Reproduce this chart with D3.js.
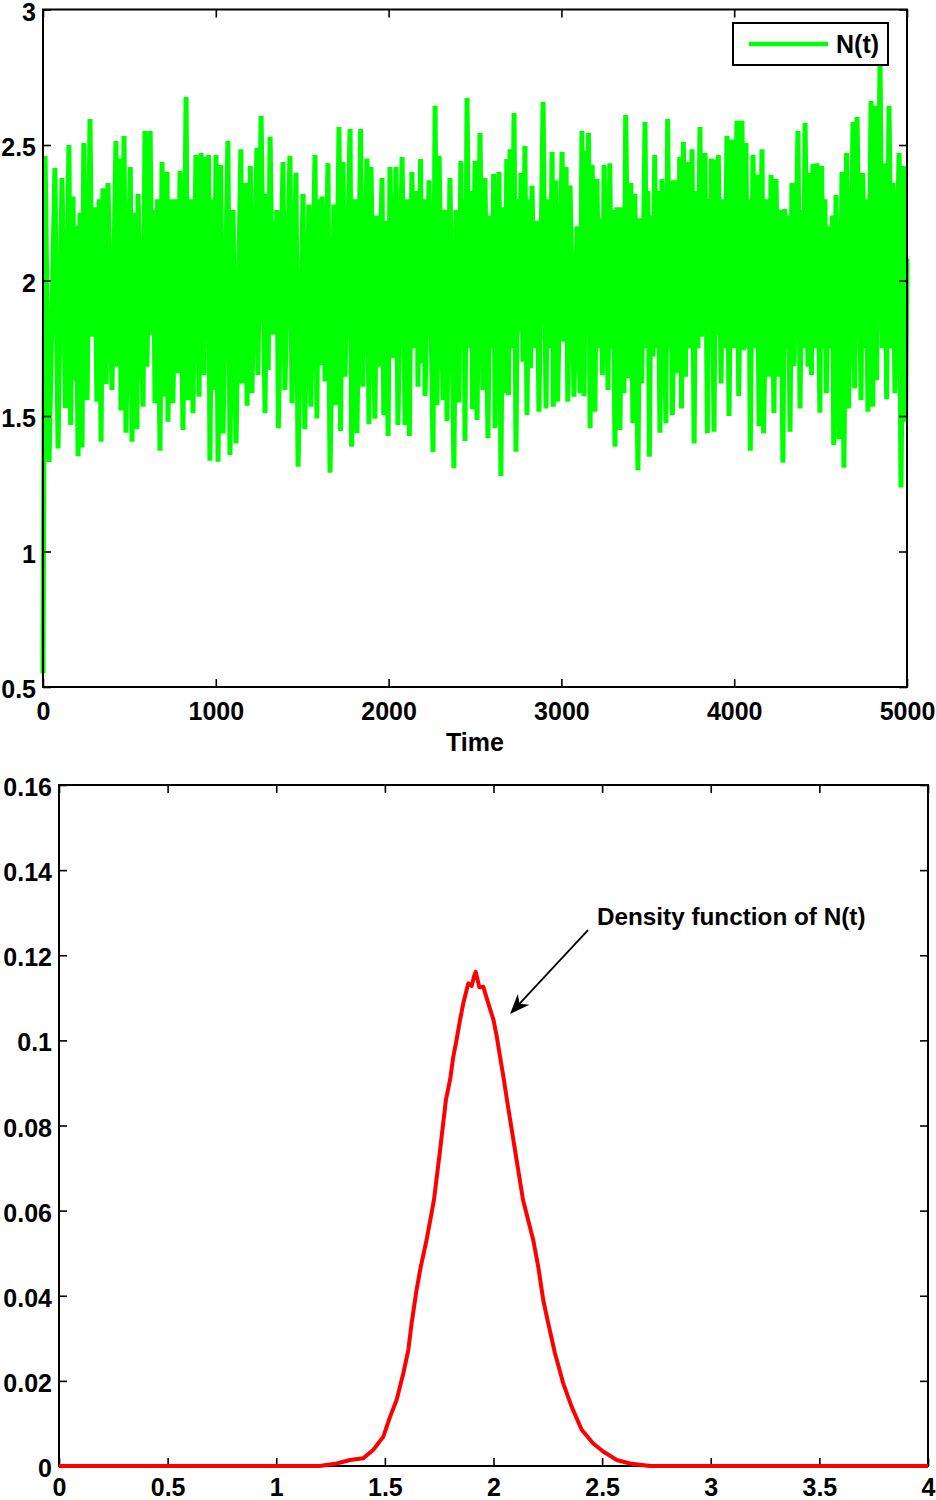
<!DOCTYPE html>
<html><head><meta charset="utf-8">
<script src="https://cdn.jsdelivr.net/npm/d3@7"></script>
<style>
body{margin:0;background:#fff}
text{font-family:"Liberation Sans",Arial,Helvetica,sans-serif;}
</style>
</head><body>
<svg id="c" width="936" height="1500"></svg>
<script>
// ---------- DATA ----------
// N(t) sample path: [time, value] (peaks and troughs)
const nSeries = [
[0,0.55],[12,2.46],[35,1.33],[69,2.415],[87,1.38],[110,2.378],[130,1.53],[150,2.50],[160,1.467],[174,2.31],
[182,1.63],[191,2.20],[203,1.352],[214,2.25],[226,1.384],[236,2.507],[255,1.559],[272,2.596],[284,1.793],[301,2.27],
[312,1.553],[325,2.30],[336,1.405],[347,2.34],[365,1.618],[376,2.36],[399,1.596],[422,2.515],[428,1.682],[446,2.45],
[451,1.52],[469,2.533],[480,1.438],[505,2.419],[515,1.405],[530,2.25],[544,1.451],[550,2.32],[579,1.534],[590,2.552],
[602,1.682],[620,2.552],[632,1.80],[640,2.26],[648,1.547],[663,2.30],[677,1.372],[689,2.437],[700,1.571],[718,2.40],
[723,1.479],[741,2.30],[752,1.547],[770,2.30],[781,1.658],[793,2.404],[810,1.448],[828,2.677],[839,1.559],[855,2.30],
[868,1.51],[885,2.463],[903,1.571],[915,2.47],[932,1.651],[943,2.456],[950,1.80],[958,2.463],[966,1.335],[978,2.30],
[990,1.596],[1001,2.463],[1013,1.331],[1028,2.426],[1042,1.436],[1070,2.515],[1082,1.356],[1100,2.26],[1117,1.399],[1145,2.484],
[1152,1.62],[1170,2.36],[1181,1.538],[1200,2.422],[1209,1.584],[1238,2.49],[1244,1.651],[1262,2.607],[1285,1.51],[1296,2.32],
[1303,1.67],[1314,2.53],[1330,1.80],[1354,2.26],[1362,1.455],[1389,2.437],[1400,1.596],[1429,2.46],[1441,1.547],[1464,2.397],
[1476,1.313],[1505,2.32],[1515,1.451],[1539,2.28],[1550,1.534],[1574,2.463],[1585,1.491],[1595,2.30],[1605,1.688],[1615,2.31],
[1632,1.627],[1649,2.433],[1661,1.291],[1684,2.28],[1695,1.54],[1713,2.566],[1722,1.445],[1736,2.437],[1748,1.645],[1777,2.559],
[1786,1.387],[1806,2.30],[1817,1.436],[1838,2.559],[1850,1.608],[1875,2.45],[1886,1.47],[1898,2.419],[1921,1.49],[1932,2.24],
[1942,1.682],[1962,2.378],[1972,1.504],[1985,2.22],[1997,1.426],[2008,2.419],[2025,1.713],[2043,2.419],[2054,1.467],[2078,2.456],
[2095,1.467],[2106,2.30],[2120,1.426],[2135,2.40],[2150,1.75],[2164,2.33],[2170,1.608],[2185,2.448],[2195,1.694],[2203,2.30],
[2211,1.574],[2234,2.37],[2257,1.366],[2269,2.645],[2280,1.54],[2292,2.46],[2315,1.559],[2326,2.26],[2338,1.482],[2355,2.378],
[2378,1.307],[2390,2.26],[2407,1.55],[2418,2.441],[2428,1.75],[2436,2.30],[2442,1.408],[2454,2.673],[2466,1.75],[2477,2.33],
[2486,1.525],[2500,2.441],[2512,1.485],[2529,2.544],[2546,1.596],[2558,2.378],[2575,1.418],[2588,2.24],[2596,1.75],[2608,2.393],
[2616,1.455],[2639,2.40],[2650,1.279],[2662,2.27],[2674,1.584],[2684,2.448],[2694,1.577],[2703,2.484],[2714,1.75],[2726,2.618],
[2737,1.368],[2749,2.30],[2758,1.811],[2766,2.397],[2778,1.70],[2789,2.496],[2801,1.504],[2812,2.30],[2822,1.676],[2830,2.35],
[2845,1.75],[2859,2.22],[2870,1.516],[2894,2.659],[2911,1.528],[2922,2.30],[2935,1.75],[2946,2.474],[2953,1.534],[2968,2.37],
[2978,1.553],[3004,2.474],[3014,1.774],[3027,2.419],[3037,1.553],[3050,2.35],[3073,1.571],[3090,2.20],[3108,1.584],[3119,2.552],
[3131,1.574],[3142,2.48],[3150,1.80],[3157,2.544],[3166,1.455],[3178,2.426],[3194,1.516],[3206,2.374],[3218,1.75],[3229,2.23],
[3237,1.651],[3247,2.426],[3270,1.596],[3280,2.433],[3290,1.75],[3298,2.26],[3310,1.387],[3322,2.27],[3339,1.448],[3350,2.27],
[3362,1.584],[3372,2.611],[3391,1.639],[3402,2.36],[3414,1.473],[3425,2.32],[3443,1.30],[3455,2.23],[3465,1.62],[3484,2.585],
[3493,1.75],[3501,2.33],[3509,1.35],[3520,2.24],[3530,1.719],[3540,2.463],[3550,1.75],[3559,2.33],[3570,1.438],[3582,2.374],
[3605,1.473],[3615,2.596],[3625,1.75],[3634,2.37],[3642,1.504],[3663,2.37],[3675,1.658],[3685,2.456],[3695,1.528],[3706,2.511],
[3718,1.645],[3728,2.437],[3742,1.75],[3756,2.484],[3768,1.399],[3779,2.33],[3790,1.75],[3802,2.566],[3810,1.793],[3831,2.47],
[3845,1.436],[3854,2.30],[3860,1.75],[3868,2.45],[3883,1.442],[3895,2.445],[3900,1.80],[3908,2.463],[3924,1.62],[3934,2.30],
[3946,1.75],[3958,2.533],[3970,1.50],[3987,2.52],[4000,1.75],[4016,2.589],[4026,1.574],[4045,2.589],[4054,1.743],[4068,2.507],
[4078,1.75],[4085,2.30],[4093,1.372],[4109,2.463],[4120,1.75],[4132,2.39],[4144,1.463],[4161,2.484],[4170,1.436],[4190,2.30],
[4201,1.645],[4213,2.39],[4230,1.51],[4242,2.374],[4259,1.645],[4268,2.26],[4282,1.328],[4292,2.264],[4302,1.75],[4311,2.24],
[4323,1.442],[4334,2.36],[4346,1.684],[4369,2.552],[4381,1.528],[4392,2.26],[4400,1.75],[4410,2.581],[4427,1.682],[4436,2.397],
[4447,1.651],[4456,2.43],[4470,1.75],[4479,2.433],[4496,1.512],[4506,2.422],[4516,1.75],[4525,2.30],[4533,1.584],[4549,2.20],
[4560,1.75],[4568,2.24],[4576,1.393],[4589,2.315],[4607,1.414],[4624,2.40],[4635,1.309],[4650,2.47],[4662,1.528],[4688,2.585],
[4697,1.602],[4711,2.603],[4734,1.559],[4744,2.397],[4754,1.75],[4763,2.30],[4774,1.516],[4792,2.662],[4802,1.534],[4812,2.645],
[4824,1.633],[4844,2.81],[4858,1.75],[4872,2.433],[4882,1.562],[4896,2.645],[4910,1.75],[4920,2.36],[4930,1.584],[4954,2.47],
[4965,1.236],[4983,2.422],[4992,1.479],[5000,2.08]
];
const topXTicks = [0,1000,2000,3000,4000,5000];
const topYTicks = [0.5,1,1.5,2,2.5,3];
const topXLabel = "Time";
const legendLabel = "N(t)";

// density of N(t)
const densX = [0,1.2,1.278,1.34,1.40,1.447,1.493,1.524,1.554,1.585,1.608,1.623,1.646,1.665,1.692,1.726,1.754,1.781,1.80,1.815,1.83,1.846,1.861,1.884,1.90,1.91,1.918,1.935,1.953,1.976,2.0,2.015,2.03,2.048,2.062,2.099,2.136,2.183,2.206,2.229,2.252,2.283,2.321,2.36,2.406,2.459,2.505,2.567,2.628,2.72,4];
const densY = [0,0,0.0006,0.0014,0.0018,0.0038,0.0069,0.0116,0.0155,0.0218,0.0273,0.0335,0.0414,0.0468,0.0531,0.0625,0.0742,0.086,0.0907,0.0962,0.1001,0.1048,0.1087,0.1134,0.1128,0.1150,0.1161,0.1125,0.1126,0.1087,0.1048,0.1009,0.0962,0.0907,0.086,0.0742,0.0625,0.0531,0.0468,0.039,0.0335,0.0265,0.0194,0.0139,0.0085,0.0053,0.0034,0.0014,0.0006,0,0];
const botXTicks = [0,0.5,1,1.5,2,2.5,3,3.5,4];
const botYTicks = [0,0.02,0.04,0.06,0.08,0.1,0.12,0.14,0.16];
const annotationText = "Density function of N(t)";
const arrowTail = [2.435, 0.1259];
const arrowTip = [2.076, 0.1062];
const annotationPos = [2.476, 0.1271];

// ---------- DRAW ----------
const svg = d3.select("#c");
const FS = 25;

function frame(x, y, xt, yt, xPad) {
  const [x0, x1] = x.range(), [y0, y1] = y.range();
  const g = svg.append("g");
  const style = sel => {
    sel.select(".domain").remove();
    sel.selectAll(".tick line").attr("stroke", "#000").attr("stroke-width", 1.6);
    sel.selectAll(".tick text").attr("fill", "#000").attr("font-size", FS).attr("font-weight", "bold");
  };
  g.append("g").attr("transform", `translate(0,${y0})`)
    .call(d3.axisBottom(x).tickValues(xt).tickSize(-8).tickPadding(xPad).tickFormat(d => String(d))).call(style);
  g.append("g").attr("transform", `translate(0,${y1})`)
    .call(d3.axisTop(x).tickValues(xt).tickSize(-8).tickFormat("")).call(style);
  const ly = g.append("g").attr("transform", `translate(${x0},0)`)
    .call(d3.axisLeft(y).tickValues(yt).tickSize(-8).tickPadding(7).tickFormat(d => String(d))).call(style);
  ly.selectAll(".tick text").attr("dy", "0.42em");
  g.append("g").attr("transform", `translate(${x1},0)`)
    .call(d3.axisRight(y).tickValues(yt).tickSize(-8).tickFormat("")).call(style);
  return g;
}
function border(x, y) {
  const [x0, x1] = x.range(), [y0, y1] = y.range();
  svg.append("rect").attr("x", x0).attr("y", y1).attr("width", x1 - x0).attr("height", y0 - y1)
    .attr("fill", "none").attr("stroke", "#000").attr("stroke-width", 2);
}

// Top panel
const xT = d3.scaleLinear().domain([0, 5000]).range([43, 907]);
const yT = d3.scaleLinear().domain([0.5, 3]).range([687, 9.5]);
svg.append("path").datum(nSeries)
  .attr("d", d3.line().x(d => xT(d[0])).y(d => yT(d[1])))
  .attr("fill", "none").attr("stroke", "#00ff00").attr("stroke-width", 5).attr("stroke-linejoin", "bevel");
frame(xT, yT, topXTicks, topYTicks, 15);
border(xT, yT);
svg.append("text").attr("x", (xT.range()[0] + xT.range()[1]) / 2).attr("y", 751)
  .attr("text-anchor", "middle").attr("font-size", FS).attr("font-weight", "bold").text(topXLabel);

// legend
const lg = svg.append("g");
lg.append("rect").attr("x", 733).attr("y", 23).attr("width", 155).attr("height", 42)
  .attr("fill", "#fff").attr("stroke", "#000").attr("stroke-width", 2);
lg.append("line").attr("x1", 749).attr("x2", 828).attr("y1", 44).attr("y2", 44)
  .attr("stroke", "#00ff00").attr("stroke-width", 4.5);
lg.append("text").attr("x", 836).attr("y", 53).attr("font-size", FS).attr("font-weight", "bold").text(legendLabel);

// Bottom panel
const xB = d3.scaleLinear().domain([0, 4]).range([59, 928]);
const yB = d3.scaleLinear().domain([0, 0.16]).range([1466, 785]);
frame(xB, yB, botXTicks, botYTicks, 12);
border(xB, yB);
svg.append("path").datum(densX.map((d, i) => [d, densY[i]]))
  .attr("d", d3.line().x(d => xB(d[0])).y(d => yB(d[1])))
  .attr("fill", "none").attr("stroke", "#ff0000").attr("stroke-width", 4).attr("stroke-linejoin", "round");

// annotation arrow
const tx = xB(arrowTail[0]), ty = yB(arrowTail[1]);
const hx = xB(arrowTip[0]), hy = yB(arrowTip[1]);
const L = Math.hypot(hx - tx, hy - ty), ux = (hx - tx) / L, uy = (hy - ty) / L;
const nx = -uy, ny = ux, HL = 20, HW = 8;
svg.append("line").attr("x1", tx).attr("y1", ty).attr("x2", hx - ux * 12).attr("y2", hy - uy * 12)
  .attr("stroke", "#000").attr("stroke-width", 1.8);
svg.append("path").attr("d",
  `M${hx},${hy} L${hx - ux*HL + nx*HW},${hy - uy*HL + ny*HW} L${hx - ux*HL*0.7},${hy - uy*HL*0.7} L${hx - ux*HL - nx*HW},${hy - uy*HL - ny*HW} Z`)
  .attr("fill", "#000");
svg.append("text").attr("x", xB(annotationPos[0])).attr("y", yB(annotationPos[1]))
  .attr("font-size", 24.3).attr("font-weight", "bold").text(annotationText);
</script>
</body></html>
